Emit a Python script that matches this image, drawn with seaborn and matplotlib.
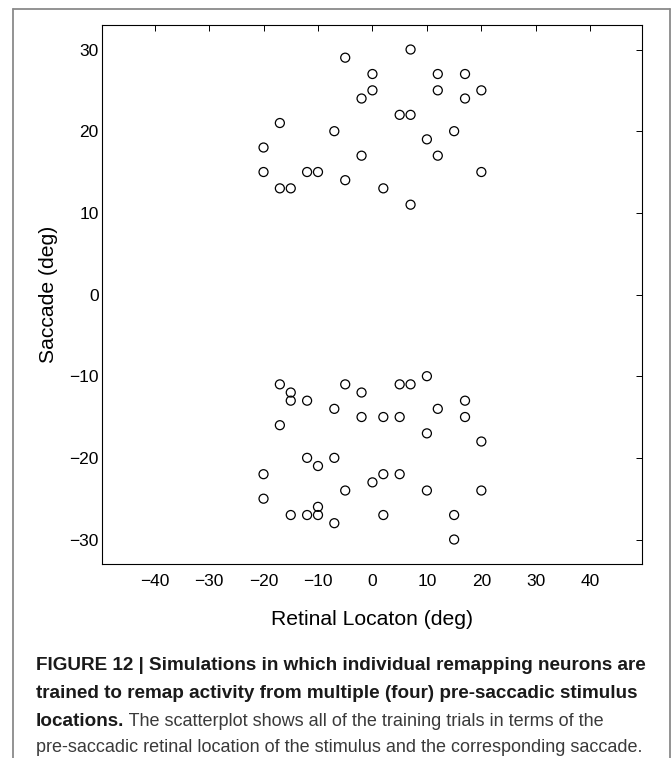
import matplotlib
matplotlib.use("Agg")
import matplotlib.pyplot as plt
import seaborn as sns
import pandas as pd
from matplotlib.lines import Line2D

# ======================
# DATA
# ======================
# upper cluster (positive saccades)
upper_x = [7, -5, 0, 12, 17, 0, 12, 20, -2, 17, 5, 7, -17, -7, 15, 10,
           -20, -2, 12, -20, -12, -10, 20, -5, -17, -15, 2, 7]
upper_y = [30, 29, 27, 27, 27, 25, 25, 25, 24, 24, 22, 22, 21, 20, 20, 19,
           18, 17, 17, 15, 15, 15, 15, 14, 13, 13, 13, 11]

# lower cluster (negative saccades)
lower_x = [10, -17, -5, 5, 7, -15, -2, -15, -12, 17, -7, 12, -2, 2, 5, 17,
           -17, 10, 20, -12, -7, -10, -20, 2, 5, 0, -5, 10, 20, -20, -10,
           -15, -12, -10, 2, 15, -7, 15]
lower_y = [-10, -11, -11, -11, -11, -12, -12, -13, -13, -13, -14, -14, -15, -15, -15, -15,
           -16, -17, -18, -20, -20, -21, -22, -22, -22, -23, -24, -24, -24, -25, -26,
           -27, -27, -27, -27, -27, -28, -30]

x_ticks = [-40, -30, -20, -10, 0, 10, 20, 30, 40]
y_ticks = [-30, -20, -10, 0, 10, 20, 30]

caption_bold_1 = "FIGURE 12 | Simulations in which individual remapping neurons are"
caption_bold_2 = "trained to remap activity from multiple (four) pre-saccadic stimulus"
caption_bold_3 = "locations."
caption_rest_3 = " The scatterplot shows all of the training trials in terms of the"
caption_line_4 = "pre-saccadic retinal location of the stimulus and the corresponding saccade."

df = pd.DataFrame({
    "retinal": upper_x + lower_x,
    "saccade": upper_y + lower_y,
})

# ======================
# STYLE
# ======================
sns.set_theme(style="white")
plt.rcParams["font.family"] = ["Liberation Sans", "DejaVu Sans"]
cap_font = ["Liberation Sans", "DejaVu Sans"]

W, H = 671, 758
fig = plt.figure(figsize=(W / 100, H / 100), dpi=100)
ax = fig.add_axes([0.1525, 0.2559, 0.8043, 0.7111])

sns.scatterplot(data=df, x="retinal", y="saccade", ax=ax, marker="o", s=42,
                facecolors="none", edgecolor="black", linewidth=0.9)

ax.set_xlim(-49.6, 49.5)
ax.set_ylim(-33, 33)
ax.set_xticks(x_ticks)
ax.set_yticks(y_ticks)
ax.tick_params(axis="both", direction="in", length=4, width=0.7, color="black",
               top=True, right=True, labelsize=12.5, labelcolor="black")
ax.tick_params(axis="x", pad=7)
ax.tick_params(axis="y", pad=2.5)
for sp in ax.spines.values():
    sp.set_color("black")
    sp.set_linewidth(0.8)
    sp.set_visible(True)

ax.set_xlabel("Retinal Locaton (deg)", fontsize=15.2, color="black")
ax.set_ylabel("Saccade (deg)", fontsize=15.2, color="black")
ax.xaxis.set_label_coords(0.5, -0.086)
ax.yaxis.set_label_coords(-0.082, 0.5)

# outer frame (open at the bottom)
fx0, fx1, fy = 12.7 / W, 670 / W, 1 - 8.5 / H
frame_kw = dict(color="#8a8a8a", linewidth=1.3, transform=fig.transFigure)
fig.add_artist(Line2D([fx0, fx1], [fy, fy], **frame_kw))
fig.add_artist(Line2D([fx0, fx0], [fy, 0], **frame_kw))
fig.add_artist(Line2D([fx1, fx1], [fy, 0], **frame_kw))

# ======================
# CAPTION (sizes fitted to the line widths of the original)
# ======================
renderer = fig.canvas.get_renderer()


def fitted_size(text, weight, target_px):
    probe = fig.text(0, 0, text, fontsize=10, family=cap_font, fontweight=weight)
    w = probe.get_window_extent(renderer=renderer).width
    probe.remove()
    return 10 * target_px / w


bold_size = fitted_size(caption_bold_1, "bold", 611)
reg_size = fitted_size(caption_line_4, "normal", 610)

cx = 36 / W
bold_kw = dict(fontsize=bold_size, family=cap_font, fontweight="bold",
               va="center", ha="left", color="#1a1a1a")
reg_kw = dict(fontsize=reg_size, family=cap_font, va="center", ha="left",
              color="#3a3a3a")
fig.text(cx, 1 - 665 / H, caption_bold_1, **bold_kw)
fig.text(cx, 1 - 693 / H, caption_bold_2, **bold_kw)
t3 = fig.text(cx, 1 - 721 / H, caption_bold_3, **bold_kw)
bb = t3.get_window_extent(renderer=renderer)
fig.text(bb.x1 / fig.bbox.width, 1 - 721 / H, caption_rest_3, **reg_kw)
fig.text(cx, 1 - 748 / H, caption_line_4, **reg_kw)

fig.savefig("out.png", dpi=100)
